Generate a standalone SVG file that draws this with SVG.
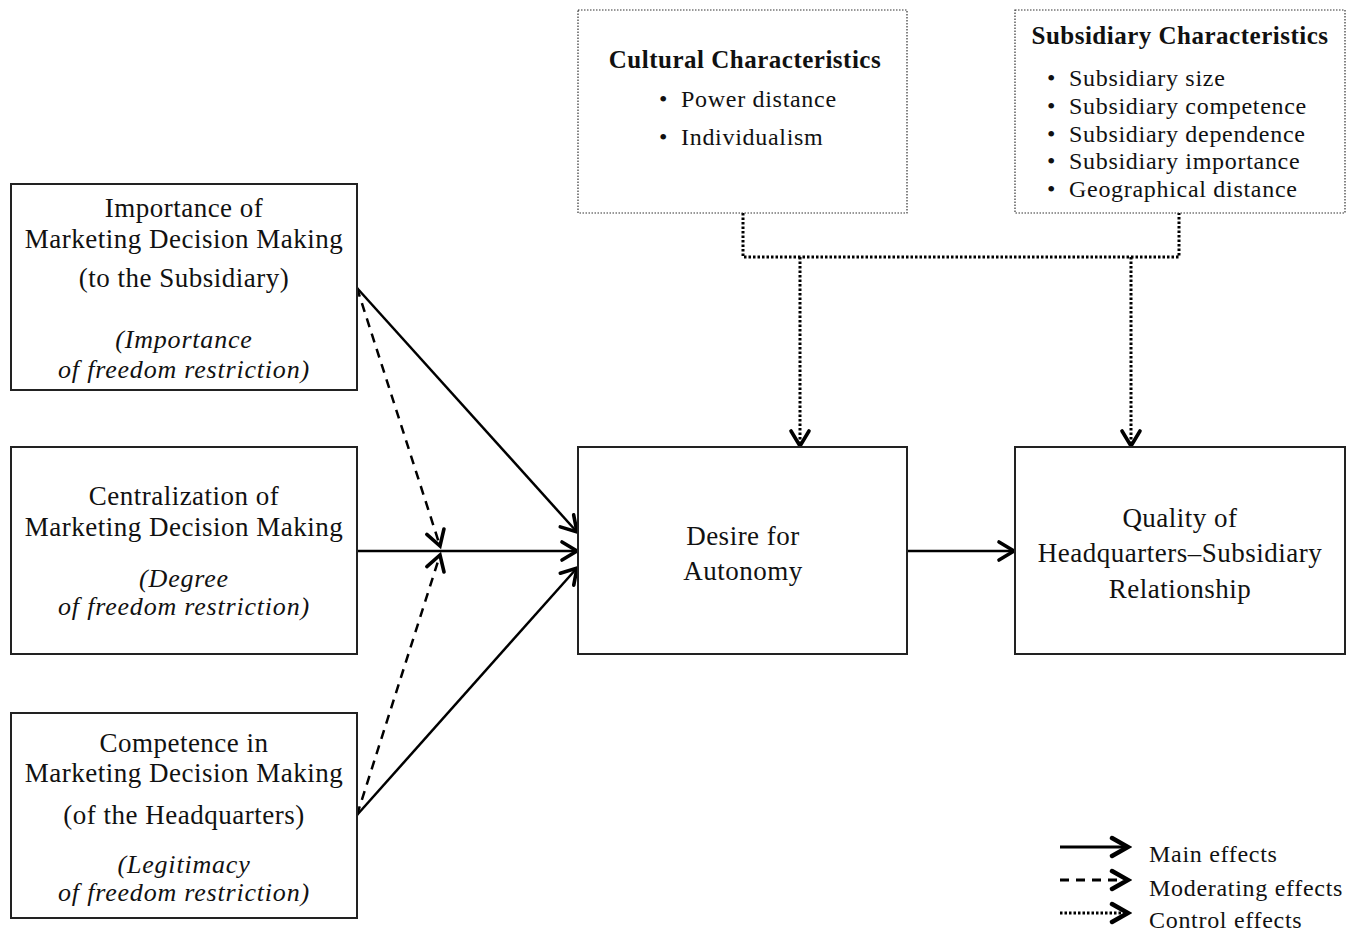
<svg xmlns="http://www.w3.org/2000/svg" width="1353" height="932" viewBox="0 0 1353 932">
<style>
.box{fill:#fff;stroke:#222;stroke-width:2}
.dbox{fill:#fff;stroke:#333;stroke-width:1.2;stroke-dasharray:1.5 1.5}
text{font-family:"Liberation Serif",serif;fill:#111}
.t{font-size:27px;letter-spacing:0.5px;text-anchor:middle}
.i{font-style:italic;font-size:26px;letter-spacing:0.8px}
.h{font-size:25px;letter-spacing:0.5px;font-weight:bold;text-anchor:middle}
.b{font-size:24px;letter-spacing:0.7px}
.main{stroke:#000;stroke-width:2.5;fill:none}
.mod{stroke:#000;stroke-width:2.5;fill:none;stroke-dasharray:9 7}
.ctl{stroke:#000;stroke-width:3;fill:none;stroke-dasharray:2.5 2}
.lg{stroke-width:3.2}
</style>
<defs>
<marker id="ah" markerUnits="userSpaceOnUse" markerWidth="26" markerHeight="26" refX="22" refY="13" orient="auto">
<path d="M7,4 L22,13 L7,22" fill="none" stroke="#000" stroke-width="3.6" stroke-linecap="round" stroke-linejoin="miter"/>
</marker>
<marker id="ahL" markerUnits="userSpaceOnUse" markerWidth="28" markerHeight="28" refX="24" refY="14" orient="auto">
<path d="M8,5 L24,14 L8,23" fill="none" stroke="#000" stroke-width="4.5" stroke-linecap="round" stroke-linejoin="miter"/>
</marker>
</defs>

<g id="connectors">
<path class="ctl" d="M743,213 V257 H1179 V213"/>
<path class="ctl" d="M800,257 V446" marker-end="url(#ah)"/>
<path class="ctl" d="M1131,257 V446" marker-end="url(#ah)"/>
<path class="main" d="M357,288 L577,532" marker-end="url(#ah)"/>
<path class="main" d="M357,551 H577" marker-end="url(#ah)"/>
<path class="main" d="M357,815 L577,568" marker-end="url(#ah)"/>
<path class="mod" d="M357,288 L440,546" marker-end="url(#ah)"/>
<path class="mod" d="M357,815 L440,555" marker-end="url(#ah)"/>
<path class="main" d="M907,551 H1014" marker-end="url(#ah)"/>
</g>

<g id="importance">
<rect class="box" x="11" y="184" width="346" height="206"/>
<text class="t" x="184" y="217">Importance of</text>
<text class="t" x="184" y="248">Marketing Decision Making</text>
<text class="t" x="184" y="287">(to the Subsidiary)</text>
<text class="t i" x="184" y="348">(Importance</text>
<text class="t i" x="184" y="378">of freedom restriction)</text>
</g>

<g id="centralization">
<rect class="box" x="11" y="447" width="346" height="207"/>
<text class="t" x="184" y="505">Centralization of</text>
<text class="t" x="184" y="536">Marketing Decision Making</text>
<text class="t i" x="184" y="587">(Degree</text>
<text class="t i" x="184" y="615">of freedom restriction)</text>
</g>

<g id="competence">
<rect class="box" x="11" y="713" width="346" height="205"/>
<text class="t" x="184" y="752">Competence in</text>
<text class="t" x="184" y="782">Marketing Decision Making</text>
<text class="t" x="184" y="824">(of the Headquarters)</text>
<text class="t i" x="184" y="873">(Legitimacy</text>
<text class="t i" x="184" y="901">of freedom restriction)</text>
</g>

<g id="desire">
<rect class="box" x="578" y="447" width="329" height="207"/>
<text class="t" x="743" y="545">Desire for</text>
<text class="t" x="743" y="580">Autonomy</text>
</g>

<g id="quality">
<rect class="box" x="1015" y="447" width="330" height="207"/>
<text class="t" x="1180" y="527">Quality of</text>
<text class="t" x="1180" y="562">Headquarters–Subsidiary</text>
<text class="t" x="1180" y="598">Relationship</text>
</g>

<g id="cultural">
<rect class="dbox" x="578" y="10" width="329" height="203"/>
<text class="h" x="745" y="68">Cultural Characteristics</text>
<text class="b" x="659" y="107">•</text><text class="b" x="681" y="107">Power distance</text>
<text class="b" x="659" y="145">•</text><text class="b" x="681" y="145">Individualism</text>
</g>

<g id="subsidiary">
<rect class="dbox" x="1015" y="10" width="330" height="203"/>
<text class="h" x="1180" y="44">Subsidiary Characteristics</text>
<text class="b" x="1047" y="86">•</text><text class="b" x="1069" y="86">Subsidiary size</text>
<text class="b" x="1047" y="114">•</text><text class="b" x="1069" y="114">Subsidiary competence</text>
<text class="b" x="1047" y="142">•</text><text class="b" x="1069" y="142">Subsidiary dependence</text>
<text class="b" x="1047" y="169">•</text><text class="b" x="1069" y="169">Subsidiary importance</text>
<text class="b" x="1047" y="197">•</text><text class="b" x="1069" y="197">Geographical distance</text>
</g>

<g id="legend">
<path class="main lg" d="M1060,847 H1128" marker-end="url(#ahL)"/>
<path class="mod lg" d="M1060,880 H1128" marker-end="url(#ahL)"/>
<path class="ctl lg" d="M1060,913 H1128" marker-end="url(#ahL)"/>
<text class="b" x="1149" y="862">Main effects</text>
<text class="b" x="1149" y="896">Moderating effects</text>
<text class="b" x="1149" y="928">Control effects</text>
</g>
</svg>
